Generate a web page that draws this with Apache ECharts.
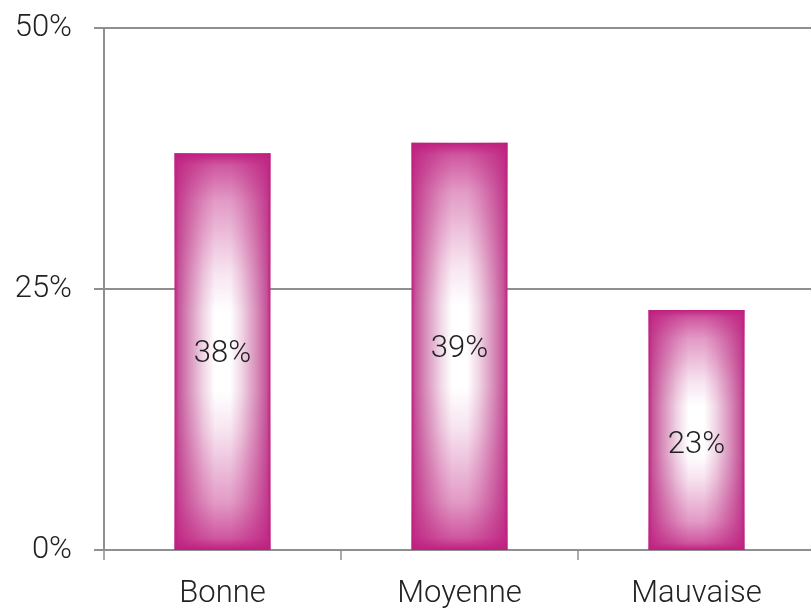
<!DOCTYPE html>
<html>
<head>
<meta charset="utf-8">
<script src="https://cdn.jsdelivr.net/npm/echarts@6/dist/echarts.min.js"></script>
<style>
  html, body { margin: 0; padding: 0; background: #fff; }
  #chart { width: 811px; height: 611px; }
</style>
</head>
<body>
<div id="chart"></div>
<script>
// données
var categories = ['Bonne', 'Moyenne', 'Mauvaise'];
var values = [38, 39, 23];
var yTicks = [0, 25, 50];

var magenta = '#bf1f80';
var axisGray = '#8f8f8f';
var font = 'Roboto';

// couche horizontale : bords magenta, centre blanc
var hGrad = new echarts.graphic.LinearGradient(0, 0, 1, 0, [
  {offset: 0, color: magenta},
  {offset: 0.04, color: '#c6559a'},
  {offset: 0.15, color: '#d88fbb'},
  {offset: 0.3, color: '#f0d5e5'},
  {offset: 0.42, color: '#ffffff'},
  {offset: 0.58, color: '#ffffff'},
  {offset: 0.7, color: '#f0d5e5'},
  {offset: 0.85, color: '#d88fbb'},
  {offset: 0.96, color: '#c6559a'},
  {offset: 1, color: magenta}
]);
// couche verticale : haut/bas magenta, centre transparent
var vGrad = new echarts.graphic.LinearGradient(0, 0, 0, 1, [
  {offset: 0, color: 'rgba(191,31,128,1)'},
  {offset: 0.03, color: 'rgba(191,31,128,0.75)'},
  {offset: 0.12, color: 'rgba(191,31,128,0.45)'},
  {offset: 0.3, color: 'rgba(191,31,128,0.12)'},
  {offset: 0.4, color: 'rgba(191,31,128,0)'},
  {offset: 0.6, color: 'rgba(191,31,128,0)'},
  {offset: 0.7, color: 'rgba(191,31,128,0.12)'},
  {offset: 0.88, color: 'rgba(191,31,128,0.45)'},
  {offset: 0.97, color: 'rgba(191,31,128,0.75)'},
  {offset: 1, color: 'rgba(191,31,128,1)'}
]);

var labelData = values.map(function (v, i) {
  var item = {value: v};
  if (i === 2) item.label = {offset: [0, 15]};
  return item;
});

var chart = echarts.init(document.getElementById('chart'));
chart.setOption({
  animation: false,
  grid: {left: 104, width: 711, top: 28, bottom: 61, outerBoundsMode: 'none', containLabel: false},
  xAxis: {
    type: 'category',
    data: categories,
    axisLine: {lineStyle: {color: axisGray, width: 2}},
    axisTick: {show: true, length: 10, lineStyle: {color: axisGray, width: 1.5}},
    axisLabel: {color: '#222', fontFamily: font, fontWeight: 300, fontSize: 31, margin: 29}
  },
  yAxis: {
    type: 'value',
    min: 0,
    max: 50,
    interval: 25,
    axisLine: {show: true, lineStyle: {color: axisGray, width: 2}},
    axisTick: {show: true, length: 10, lineStyle: {color: axisGray, width: 2}},
    splitLine: {show: true, lineStyle: {color: axisGray, width: 2}},
    axisLabel: {
      color: '#222', fontFamily: font, fontWeight: 300, fontSize: 31, margin: 32,
      formatter: function (v) { return yTicks.indexOf(v) >= 0 ? v + '%' : ''; }
    }
  },
  series: [
    {
      type: 'bar',
      data: values,
      barWidth: 96,
      itemStyle: {color: hGrad},
      silent: true,
      z: 2
    },
    {
      type: 'bar',
      data: labelData,
      barWidth: 96,
      barGap: '-100%',
      itemStyle: {color: vGrad},
      silent: true,
      z: 3,
      label: {
        show: true,
        position: 'inside',
        offset: [0, 3],
        color: '#222',
        fontFamily: font,
        fontWeight: 300,
        fontSize: 31,
        formatter: '{c}%'
      }
    }
  ]
});
</script>
</body>
</html>
